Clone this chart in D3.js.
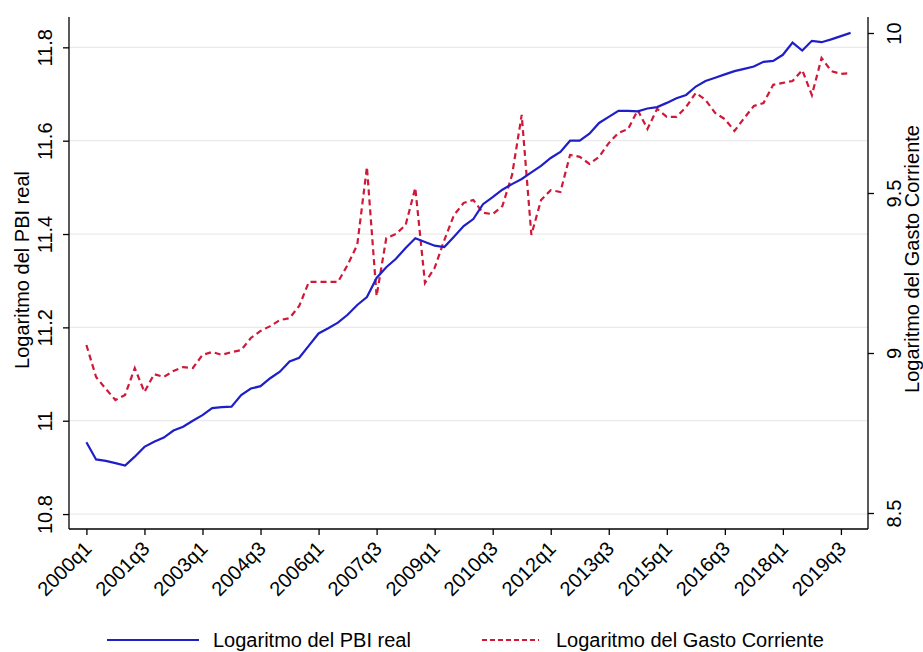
<!DOCTYPE html>
<html>
<head>
<meta charset="utf-8">
<script src="https://cdn.jsdelivr.net/npm/d3@7"></script>
<style>
  body { margin: 0; background: #fff; }
  text { font-family: "Liberation Sans", Arial, sans-serif; fill: #000; }
</style>
</head>
<body>
<div id="chart"></div>
<script>
// Quarters 2000q1 .. 2019q4
const quarters = [];
for (let y = 2000; y <= 2019; y++) for (let q = 1; q <= 4; q++) quarters.push(y + "q" + q);

// Labels shown on the x axis (every 6 quarters)
const tickLabels = ["2000q1", "2001q3", "2003q1", "2004q3", "2006q1", "2007q3", "2009q1",
  "2010q3", "2012q1", "2013q3", "2015q1", "2016q3", "2018q1", "2019q3"];

// Logaritmo del PBI real (left axis)
const pbi = [
  10.954, 10.917, 10.914, 10.909, 10.904, 10.923, 10.944, 10.955, 10.964, 10.979,
  10.987, 11.000, 11.012, 11.027, 11.029, 11.030, 11.055, 11.069, 11.074, 11.091,
  11.105, 11.127, 11.135, 11.161, 11.187, 11.198, 11.210, 11.227, 11.248, 11.265,
  11.306, 11.329, 11.347, 11.370, 11.391, 11.383, 11.375, 11.372, 11.394, 11.417,
  11.432, 11.464, 11.479, 11.495, 11.507, 11.518, 11.532, 11.546, 11.563, 11.576,
  11.600, 11.600, 11.615, 11.638, 11.651, 11.664, 11.664, 11.663, 11.669, 11.672,
  11.681, 11.691, 11.698, 11.716, 11.728, 11.735, 11.742, 11.749, 11.754, 11.759,
  11.769, 11.771, 11.784, 11.810, 11.793, 11.814, 11.811, 11.817, 11.824, 11.831
];

// Logaritmo del Gasto Corriente (right axis)
const gasto = [
  9.025, 8.925, 8.888, 8.853, 8.869, 8.953, 8.878, 8.934, 8.925, 8.944,
  8.956, 8.953, 8.994, 9.003, 8.994, 9.003, 9.009, 9.047, 9.069, 9.084,
  9.103, 9.109, 9.147, 9.222, 9.222, 9.222, 9.222, 9.275, 9.338, 9.581,
  9.178, 9.359, 9.372, 9.400, 9.516, 9.219, 9.266, 9.353, 9.431, 9.469,
  9.478, 9.438, 9.434, 9.459, 9.556, 9.744, 9.369, 9.478, 9.509, 9.503,
  9.619, 9.613, 9.591, 9.613, 9.656, 9.688, 9.700, 9.759, 9.700, 9.763,
  9.738, 9.738, 9.769, 9.813, 9.791, 9.750, 9.731, 9.694, 9.734, 9.772,
  9.781, 9.838, 9.844, 9.850, 9.884, 9.806, 9.922, 9.881, 9.872, 9.875
];

const leftTicks = [10.8, 11, 11.2, 11.4, 11.6, 11.8];
const rightTicks = [8.5, 9, 9.5, 10];

// Dimensions
const width = 923, height = 652;
const plot = { left: 69, right: 868, top: 17, bottom: 529 };
const fontSize = "20px";

const svg = d3.select("#chart").append("svg")
  .attr("width", width)
  .attr("height", height);

// Scales
const x = d3.scaleLinear().domain([-1.8, 80.8]).range([plot.left, plot.right]);
const yL = d3.scaleLinear().domain([10.768, 11.865]).range([plot.bottom, plot.top]);
const yR = d3.scaleLinear().domain([8.45, 10.05]).range([plot.bottom, plot.top]);

// Gridlines at left ticks
svg.append("g")
  .selectAll("line")
  .data(leftTicks)
  .join("line")
  .attr("x1", plot.left).attr("x2", plot.right)
  .attr("y1", d => yL(d)).attr("y2", d => yL(d))
  .attr("stroke", "#eaeaea")
  .attr("stroke-width", 1.2);

// Left axis
const axL = svg.append("g")
  .attr("transform", `translate(${plot.left},0)`)
  .call(d3.axisLeft(yL).tickValues(leftTicks).tickSize(6).tickFormat(d3.format("")));
axL.select(".domain").attr("d", `M0,${plot.top}V${plot.bottom}`);
axL.selectAll(".tick text")
  .attr("x", 0).attr("dy", 0)
  .attr("transform", "translate(-17,0) rotate(-90)")
  .attr("text-anchor", "middle")
  .style("font-size", fontSize);

// Right axis
const axR = svg.append("g")
  .attr("transform", `translate(${plot.right},0)`)
  .call(d3.axisRight(yR).tickValues(rightTicks).tickSize(6).tickFormat(d3.format("")));
axR.select(".domain").attr("d", `M0,${plot.top}V${plot.bottom}`);
axR.selectAll(".tick text")
  .attr("x", 0).attr("dy", 0)
  .attr("transform", "translate(33,0) rotate(-90)")
  .attr("text-anchor", "middle")
  .style("font-size", fontSize);

// Bottom axis
const tickIdx = tickLabels.map(t => quarters.indexOf(t));
const axB = svg.append("g")
  .attr("transform", `translate(0,${plot.bottom})`)
  .call(d3.axisBottom(x).tickValues(tickIdx).tickSize(6).tickFormat(i => quarters[i]));
axB.select(".domain").attr("d", `M${plot.left},0H${plot.right}`);
axB.selectAll(".tick text")
  .attr("y", 0).attr("dy", 0)
  .attr("transform", "translate(6,21) rotate(-45)")
  .attr("text-anchor", "end")
  .style("font-size", fontSize);

svg.selectAll(".domain, .tick line").attr("stroke", "#000").attr("stroke-width", 1.3);

// Axis titles
svg.append("text")
  .attr("transform", `translate(29,270) rotate(-90)`)
  .attr("text-anchor", "middle")
  .style("font-size", fontSize)
  .text("Logaritmo del PBI real");

svg.append("text")
  .attr("transform", `translate(919,259) rotate(-90)`)
  .attr("text-anchor", "middle")
  .style("font-size", fontSize)
  .text("Logaritmo del Gasto Corriente");

// Lines
const blue = "#1f1fc8", red = "#d01839";
const linePbi = d3.line().x((d, i) => x(i)).y(d => yL(d));
const lineGasto = d3.line().x((d, i) => x(i)).y(d => yR(d));

svg.append("path")
  .datum(gasto)
  .attr("d", lineGasto)
  .attr("fill", "none")
  .attr("stroke", red)
  .attr("stroke-width", 2.2)
  .attr("stroke-dasharray", "6,4");

svg.append("path")
  .datum(pbi)
  .attr("d", linePbi)
  .attr("fill", "none")
  .attr("stroke", blue)
  .attr("stroke-width", 2.2);

// Legend
const legend = svg.append("g").attr("transform", "translate(0,640)");
legend.append("line")
  .attr("x1", 107).attr("x2", 199).attr("y1", 0).attr("y2", 0)
  .attr("stroke", blue).attr("stroke-width", 2.2);
legend.append("text")
  .attr("x", 213).attr("y", 7)
  .style("font-size", fontSize)
  .text("Logaritmo del PBI real");
legend.append("line")
  .attr("x1", 482).attr("x2", 539).attr("y1", 0).attr("y2", 0)
  .attr("stroke", red).attr("stroke-width", 2.2)
  .attr("stroke-dasharray", "5,3");
legend.append("text")
  .attr("x", 556).attr("y", 7)
  .style("font-size", fontSize)
  .text("Logaritmo del Gasto Corriente");
</script>
</body>
</html>
